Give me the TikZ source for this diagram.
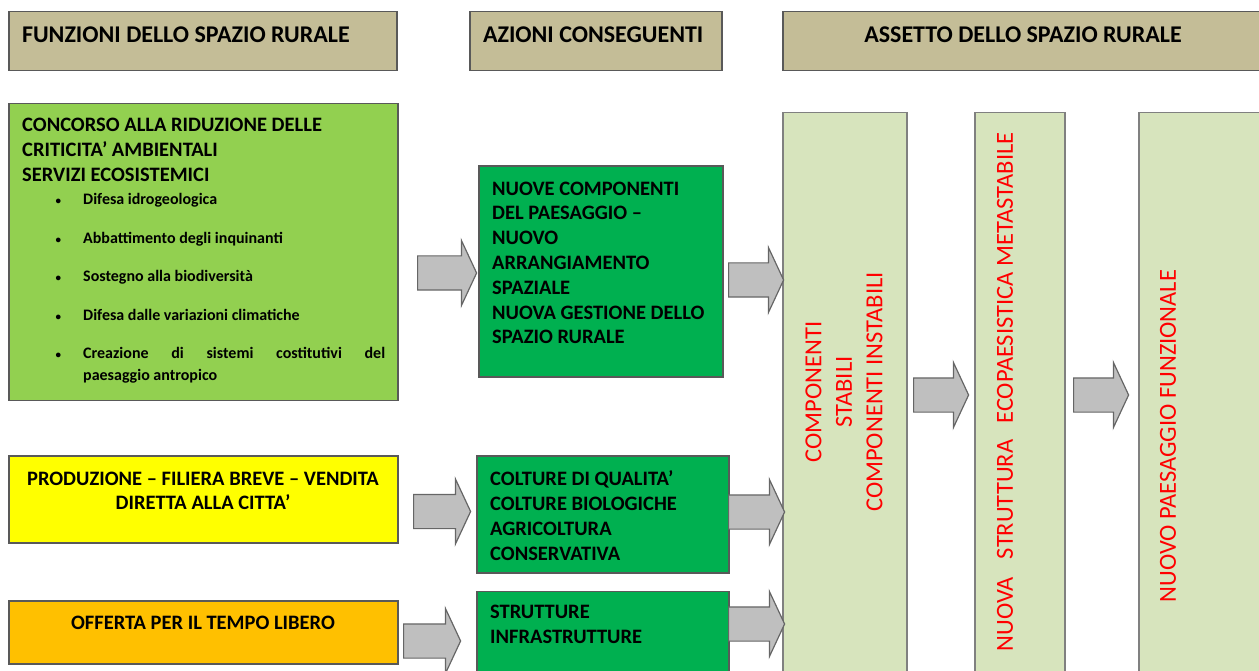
\documentclass[tikz,border=0pt]{standalone}
\usepackage{fontspec}
\setmainfont{Carlito}
\usepackage{tikz}
\usepackage{xcolor}
\usetikzlibrary{positioning,shapes.arrows}
\definecolor{intest}{RGB}{196,189,151}
\definecolor{verdechiaro}{RGB}{146,208,80}
\definecolor{verdescuro}{RGB}{0,176,80}
\definecolor{giallo}{RGB}{255,255,0}
\definecolor{arancio}{RGB}{255,192,0}
\definecolor{oliva}{RGB}{215,228,189}
\definecolor{bordo}{RGB}{89,89,89}
\definecolor{grigio}{RGB}{191,191,191}
\definecolor{rossotesto}{RGB}{255,0,0}

\begin{document}
\begin{tikzpicture}[x=1pt,y=-1pt,
    blocco/.style={draw=bordo,line width=1.3pt,anchor=north west,inner sep=0pt,outer sep=0pt},
    intestazione/.style={blocco,fill=intest,minimum height=59pt,text height=16pt,text depth=13pt,
        font=\fontsize{24}{28}\selectfont\bfseries},
    testo/.style={inner sep=0pt,anchor=north west,align=left,font=\fontsize{20.5}{24.8}\selectfont\bfseries},
    colonna/.style={blocco,draw=gray,fill=oliva,minimum height=590pt},
    verticale/.style={text=rossotesto,rotate=90,align=center,inner sep=0pt,font=\fontsize{24.5}{30.5}\selectfont},
    freccia/.style={single arrow,draw=gray!80!black,fill=grigio,line width=1.2pt,inner xsep=0pt,inner ysep=16.5pt,
        minimum width=64pt,single arrow head extend=15.5pt,single arrow tip angle=130,anchor=tail}]
    \useasboundingbox (0,0) rectangle (1259,671);

    % intestazioni
    \node[intestazione,minimum width=388pt] (titFunzioni) at (9,11.5) {\makebox[362pt][l]{FUNZIONI DELLO SPAZIO RURALE}};
    \node[intestazione,minimum width=252pt] (titAzioni) at (470,11.5) {\makebox[226pt][l]{AZIONI CONSEGUENTI}};
    \node[intestazione,minimum width=480pt] (titAssetto) at (783,11.5) {ASSETTO DELLO SPAZIO RURALE};

    % funzioni dello spazio rurale
    \node[blocco,fill=verdechiaro,minimum width=389pt,minimum height=297pt] (criticita) at (9,103.5) {};
    \node[testo] (criticitaT) at (22,118) {CONCORSO ALLA RIDUZIONE DELLE\\CRITICITA’ AMBIENTALI\\SERVIZI ECOSISTEMICI};
    \node[testo,text width=302pt,align=justify,font=\fontsize{16}{21.5}\selectfont\bfseries] (servizi) at (83,193.5)
        {\hyphenpenalty=10000 \tolerance=9999
         \noindent\llap{{\fontsize{11}{11}\selectfont\textbullet}\hspace{22pt}}Difesa idrogeologica\par\vspace{17pt}
         \noindent\llap{{\fontsize{11}{11}\selectfont\textbullet}\hspace{22pt}}Abbattimento degli inquinanti\par\vspace{17pt}
         \noindent\llap{{\fontsize{11}{11}\selectfont\textbullet}\hspace{22pt}}Sostegno alla biodiversità\par\vspace{17pt}
         \noindent\llap{{\fontsize{11}{11}\selectfont\textbullet}\hspace{22pt}}Difesa dalle variazioni climatiche\par\vspace{17pt}
         \noindent\llap{{\fontsize{11}{11}\selectfont\textbullet}\hspace{22pt}}Creazione di sistemi costitutivi del\linebreak paesaggio antropico\par};

    \node[blocco,fill=giallo,minimum width=389pt,minimum height=87pt] (produzione) at (9,456) {};
    \node[testo,anchor=north,align=center] (produzioneT) at (203,471.5) {PRODUZIONE – FILIERA BREVE – VENDITA\\DIRETTA ALLA CITTA’};
    \node[blocco,fill=arancio,minimum width=389pt,minimum height=63pt] (tempo) at (9,601) {};
    \node[testo,anchor=north] (tempoT) at (203,615.5) {OFFERTA PER IL TEMPO LIBERO};

    % azioni conseguenti
    \node[blocco,fill=verdescuro,minimum width=244pt,minimum height=211pt] (nuove) at (479,166) {};
    \node[testo] (nuoveT) at (492,181.5) {NUOVE COMPONENTI\\DEL PAESAGGIO –\\NUOVO\\ARRANGIAMENTO\\SPAZIALE\\NUOVA GESTIONE DELLO\\SPAZIO RURALE};
    \node[blocco,fill=verdescuro,minimum width=252pt,minimum height=117pt] (colture) at (477,456) {};
    \node[testo] (coltureT) at (490,470.5) {COLTURE DI QUALITA’\\COLTURE BIOLOGICHE\\AGRICOLTURA\\CONSERVATIVA};
    \node[blocco,fill=verdescuro,minimum width=252pt,minimum height=100pt] (strutture) at (477,591.5) {};
    \node[testo] (struttureT) at (490,605) {STRUTTURE\\INFRASTRUTTURE};

    % assetto dello spazio rurale
    \node[colonna,minimum width=124pt] (stabili) at (783,112.5) {};
    \node[colonna,minimum width=90pt] (metastabile) at (975,112.5) {};
    \node[colonna,minimum width=130pt] (funzionale) at (1139,112.5) {};
    \node[verticale] (stabiliT) at (844,392) {COMPONENTI\\STABILI\\COMPONENTI INSTABILI};
    \node[verticale] (metastabileT) at (1005,392) {NUOVA\hspace{18pt}STRUTTURA\hspace{16pt}ECOPAESISTICA METASTABILE};
    \node[verticale] (funzionaleT) at (1168,436) {NUOVO PAESAGGIO FUNZIONALE};

    % frecce
    \node[freccia,minimum height=59pt] (f1) at (417,273) {};
    \node[freccia,minimum height=55pt] (f2) at (728,280) {};
    \node[freccia,minimum height=55pt] (f3) at (913,395) {};
    \node[freccia,minimum height=55pt] (f4) at (1073,395) {};
    \node[freccia,minimum height=57pt] (f5) at (413,511.5) {};
    \node[freccia,minimum height=56pt] (f6) at (728,512) {};
    \node[freccia,minimum height=57pt] (f7) at (403,641) {};
    \node[freccia,minimum height=56pt] (f8) at (728,624) {};
\end{tikzpicture}
\end{document}
